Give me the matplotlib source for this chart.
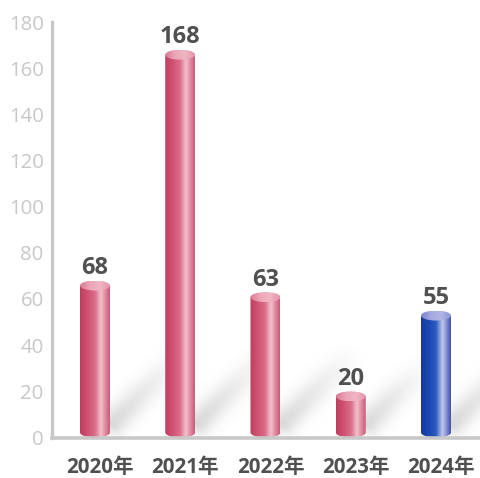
import numpy as np
import matplotlib
matplotlib.use("Agg")
import matplotlib.pyplot as plt
import matplotlib.transforms as mtransforms
from matplotlib.path import Path
from matplotlib.patches import PathPatch, Ellipse
from matplotlib.colors import LinearSegmentedColormap

plt.rcParams['font.family'] = ['Open Sans', 'Noto Sans CJK SC', 'DejaVu Sans']

categories = ['2020年', '2021年', '2022年', '2023年', '2024年']
values = [68, 168, 63, 20, 55]
highlight = [False, False, False, False, True]
yticks = [0, 20, 40, 60, 80, 100, 120, 140, 160, 180]

W, H = 480, 478
fig = plt.figure(figsize=(W / 100, H / 100), dpi=100)
ax_left_px, ax_bottom_px, ax_top_px = 52, 478 - 437.5, 478 - 22
ax = fig.add_axes([ax_left_px / W, ax_bottom_px / H, (W - ax_left_px) / W,
                   (ax_top_px - ax_bottom_px) / H])

spacing_px = 85.25
first_px = 95
xlim = ((ax_left_px - first_px) / spacing_px, (W - first_px) / spacing_px)
ax.set_xlim(*xlim)
ax.set_ylim(0, 180)
px_per_y = (ax_top_px - ax_bottom_px) / 180.0
px_per_x = spacing_px

# --- soft diagonal shadows behind bars ---
nx, ny = 428, 416
gx = np.linspace(xlim[0], xlim[1], nx)
gy = np.linspace(0, 180, ny)
GX, GY = np.meshgrid(gx, gy)
PX = GX * px_per_x
PY = GY * px_per_y
alpha = np.zeros_like(PX)
half_w = 15.0 / px_per_x
for i, v in enumerate(values):
    x0 = (i + half_w) * px_per_x - 4
    y0 = 0.0
    d = np.array([0.72, 0.72])
    d = d / np.linalg.norm(d)
    L = min(120.0, v * px_per_y * 0.9 + 60)
    rx, ry = PX - x0, PY - y0
    t = rx * d[0] + ry * d[1]
    perp = -rx * d[1] + ry * d[0]
    along = np.clip(t / L, 0, 1)
    fade = np.where((t > 0) & (t < L), (1 - along) ** 1.0, 0.0)
    band = np.exp(-((perp - 5) / 13.0) ** 2)
    alpha = np.maximum(alpha, 0.30 * fade * band * np.clip(t / 12, 0, 1))
shadow = np.zeros((ny, nx, 4))
shadow[..., :3] = 0.45
shadow[..., 3] = alpha
ax.imshow(shadow, extent=[xlim[0], xlim[1], 0, 180], origin='lower',
          aspect='auto', zorder=1, interpolation='bilinear')

red_cmap = LinearSegmentedColormap.from_list('red', [
    (0.0, '#c03d60'), (0.25, '#cf5273'), (0.5, '#dc6c89'), (0.7, '#f2c0cc'),
    (0.85, '#e0899f'), (1.0, '#c9587a')])
blue_cmap = LinearSegmentedColormap.from_list('blue', [
    (0.0, '#17389a'), (0.3, '#1c4cb6'), (0.5, '#2c5cc2'), (0.72, '#c3c9ec'),
    (0.86, '#7f8ed0'), (1.0, '#3f4fa8')])
red_top = LinearSegmentedColormap.from_list('rt', ['#d97892', '#eba6b8', '#f0b5c3', '#e594aa'])
blue_top = LinearSegmentedColormap.from_list('bt', ['#7c84cc', '#a4a9e0', '#b2b6e6', '#8c93d2'])

eh = 5.0 / px_per_y  # ellipse half-height in data units
grad = np.linspace(0, 1, 256).reshape(1, -1)

for i, (v, hl) in enumerate(zip(values, highlight)):
    cmap = blue_cmap if hl else red_cmap
    tcmap = blue_top if hl else red_top
    xl, xr = i - half_w, i + half_w
    top = v - eh
    theta = np.linspace(np.pi, 2 * np.pi, 40)
    bx = i + half_w * np.cos(theta)
    by = eh + eh * np.sin(theta)
    verts = [(xl, top)] + list(zip(bx, by)) + [(xr, top), (xl, top)]
    codes = [Path.MOVETO] + [Path.LINETO] * (len(verts) - 2) + [Path.CLOSEPOLY]
    patch = PathPatch(Path(verts, codes), facecolor='none', edgecolor='none', zorder=2)
    ax.add_patch(patch)
    im = ax.imshow(grad, cmap=cmap, extent=[xl, xr, 0, top], aspect='auto',
                   zorder=2, interpolation='bilinear')
    im.set_clip_path(patch)
    ell = Ellipse((i, top), 2 * half_w, 2 * eh, facecolor='none', edgecolor='none', zorder=3)
    ax.add_patch(ell)
    im2 = ax.imshow(grad, cmap=tcmap, extent=[xl, xr, top - eh, top + eh], aspect='auto',
                    zorder=3, interpolation='bilinear')
    im2.set_clip_path(ell)
    ax.annotate(str(v), (i, v), xytext=(0, 4.5), textcoords='offset points',
                ha='center', va='baseline', fontsize=17, fontweight='bold',
                color='#505050', zorder=5)

ax.set_yticks(yticks)
ax.set_yticklabels([str(t) for t in yticks], fontsize=14.7, color='#c8c8c8')
ax.set_xticks(range(len(categories)))
ax.set_xticklabels(categories, fontsize=14.8, fontweight='bold', color='#505050')
ax.tick_params(axis='y', length=0, pad=6)
ax.tick_params(axis='x', length=0, pad=14)
shift = mtransforms.ScaledTranslation(5 / 100, 0, fig.dpi_scale_trans)
for lab in ax.get_xticklabels():
    lab.set_transform(lab.get_transform() + shift)
for s in ['top', 'right']:
    ax.spines[s].set_visible(False)
ax.spines['left'].set_color('#c8c8c8')
ax.spines['left'].set_linewidth(2.4)
ax.spines['bottom'].set_color('#c8c8c8')
ax.spines['bottom'].set_linewidth(2.6)
ax.spines['left'].set_zorder(4)
ax.spines['bottom'].set_zorder(4)

fig.savefig('out.png', dpi=100)
